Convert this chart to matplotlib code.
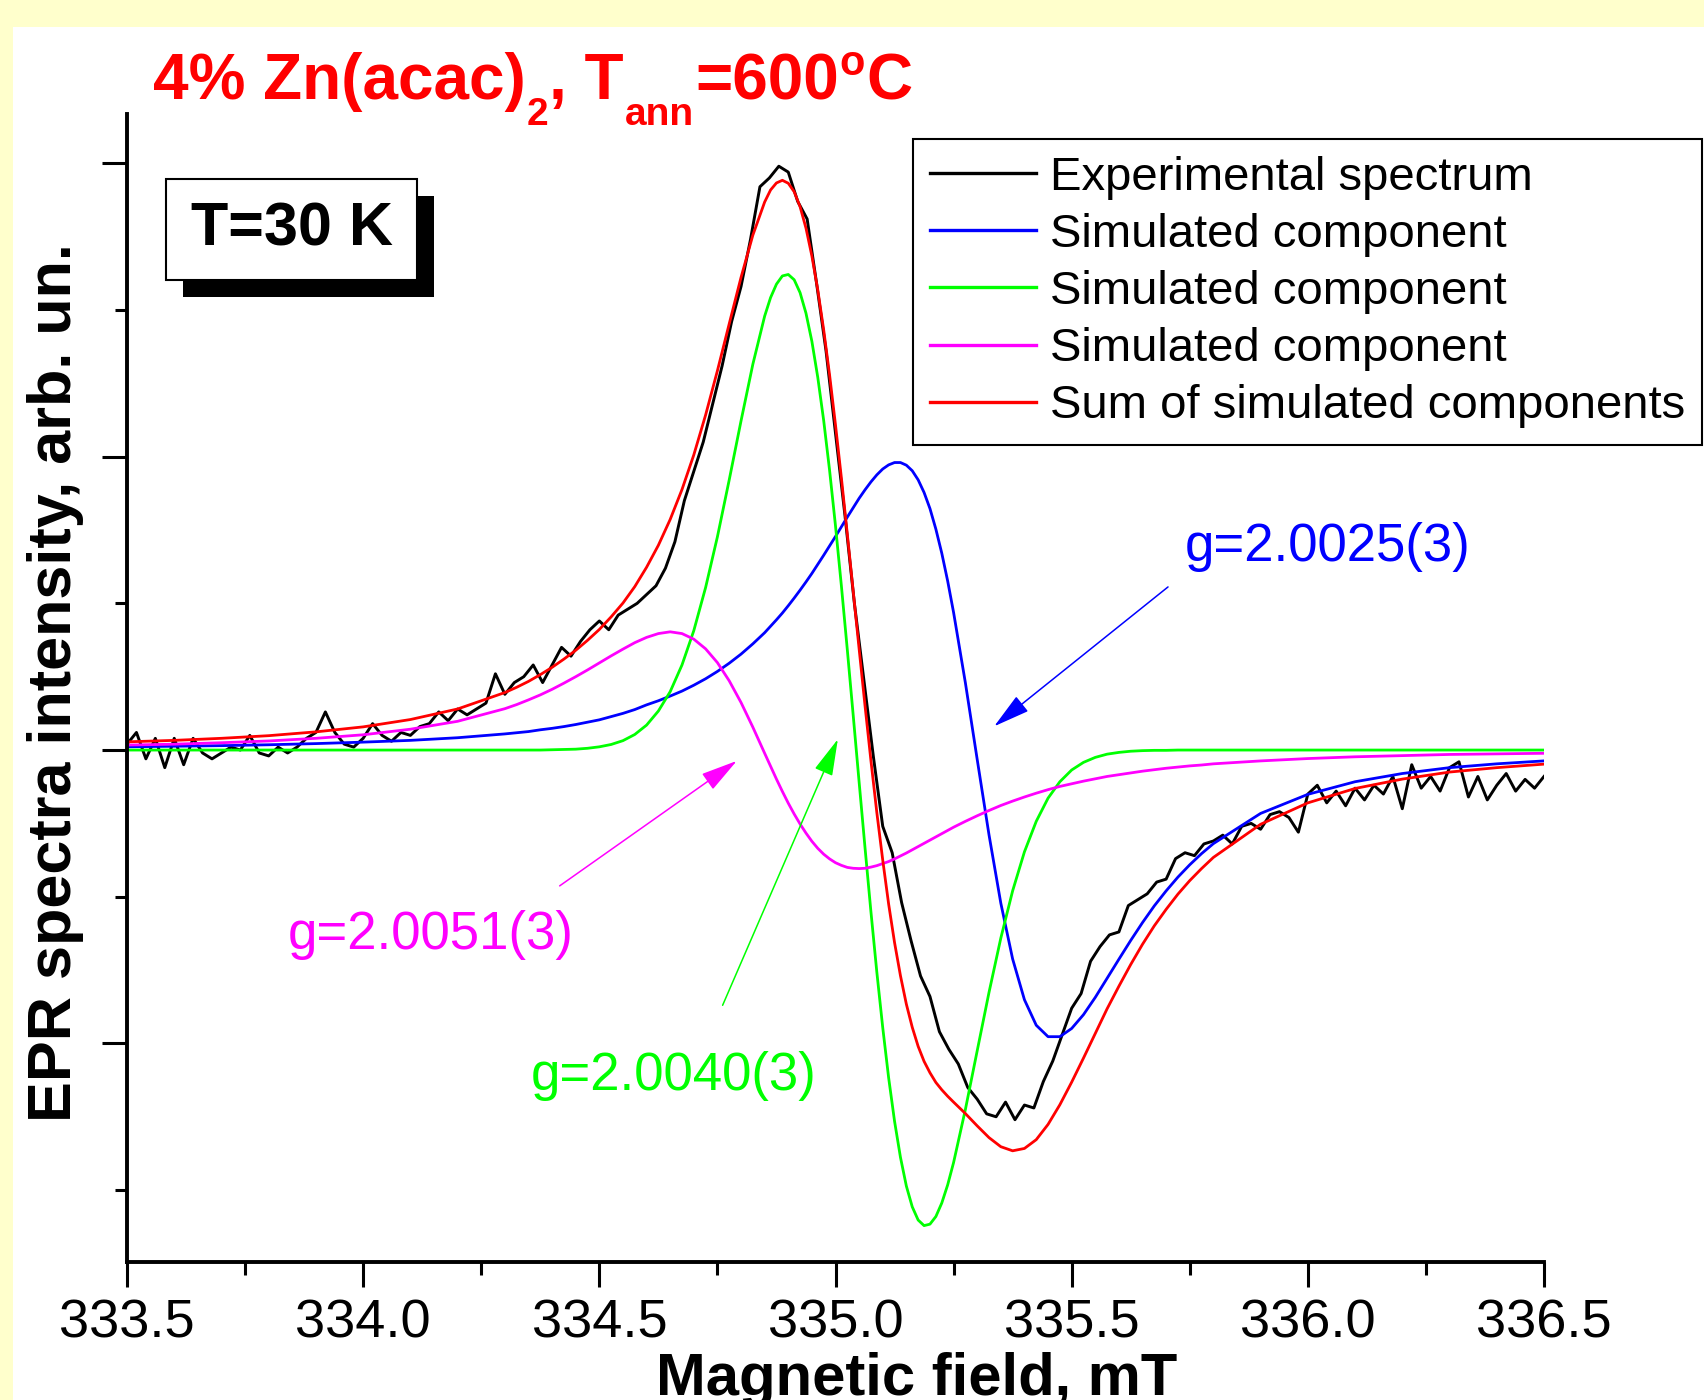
import matplotlib.pyplot as plt
from matplotlib.patches import Rectangle
from matplotlib.ticker import MultipleLocator

plt.rcParams['font.family'] = ['Liberation Sans', 'DejaVu Sans']

# ---------------- data ----------------
# simulated components, field in mT
field_sim = [333.5, 333.6, 333.7, 333.8, 333.9, 334.0, 334.1, 334.2, 334.3,
             334.325, 334.35, 334.375, 334.4, 334.425, 334.45, 334.475, 334.5,
             334.525, 334.55, 334.575, 334.6, 334.625, 334.65, 334.675, 334.7,
             334.725, 334.75, 334.775, 334.8, 334.825, 334.85,
             334.8625, 334.875, 334.8875, 334.9, 334.9125, 334.925, 334.9375, 334.95,
             334.9625, 334.975, 334.9875, 335.0, 335.0125, 335.025, 335.0375, 335.05,
             335.0625, 335.075, 335.0875, 335.1, 335.1125, 335.125, 335.1375, 335.15,
             335.1625, 335.175, 335.1875, 335.2, 335.2125, 335.225, 335.2375, 335.25,
             335.275, 335.3, 335.325, 335.35, 335.375, 335.4, 335.425, 335.45,
             335.475, 335.5, 335.525, 335.55, 335.575, 335.6, 335.625, 335.65,
             335.675, 335.7, 335.725, 335.75, 335.775, 335.8,
             335.9, 336.0, 336.1, 336.2, 336.3, 336.4, 336.5]

blue_comp = [0.011, 0.013, 0.015, 0.018, 0.022, 0.027, 0.033, 0.042, 0.055,
             0.059, 0.063, 0.069, 0.074, 0.080, 0.087, 0.095, 0.103,
             0.114, 0.125, 0.138, 0.154, 0.168, 0.184, 0.201, 0.221,
             0.243, 0.268, 0.296, 0.327, 0.362, 0.400,
             0.422, 0.444, 0.467, 0.492, 0.518, 0.545, 0.573, 0.602,
             0.633, 0.664, 0.696, 0.728, 0.761, 0.794, 0.826, 0.858,
             0.887, 0.914, 0.938, 0.958, 0.972, 0.980, 0.980, 0.971,
             0.952, 0.921, 0.878, 0.823, 0.753, 0.671, 0.576, 0.469,
             0.229, -0.032, -0.289, -0.522, -0.712, -0.851, -0.938, -0.977,
             -0.977, -0.949, -0.902, -0.843, -0.778, -0.713, -0.649, -0.588,
             -0.531, -0.480, -0.433, -0.391, -0.353, -0.319,
             -0.216, -0.151, -0.108, -0.080, -0.060, -0.047, -0.037]

green_comp = [0, 0, 0, 0, 0, 0, 0, 0, 0,
              0, 0, 0, 0.001, 0.002, 0.003, 0.006, 0.011,
              0.019, 0.032, 0.053, 0.085, 0.133, 0.199, 0.290, 0.407,
              0.554, 0.727, 0.921, 1.122, 1.315, 1.479,
              1.542, 1.588, 1.616, 1.621, 1.603, 1.559, 1.489, 1.393,
              1.270, 1.123, 0.953, 0.764, 0.559, 0.342, 0.118, -0.109,
              -0.333, -0.551, -0.757, -0.946, -1.117, -1.265, -1.388, -1.486,
              -1.557, -1.602, -1.621, -1.616, -1.590, -1.544, -1.482, -1.406,
              -1.225, -1.025, -0.826, -0.641, -0.480, -0.347, -0.243, -0.164,
              -0.108, -0.068, -0.042, -0.025, -0.014, -0.008, -0.004, -0.002,
              -0.001, -0.001, 0, 0, 0, 0,
              0, 0, 0, 0, 0, 0, 0]

magenta_comp = [0.017, 0.020, 0.025, 0.031, 0.040, 0.052, 0.071, 0.098, 0.141,
                0.155, 0.171, 0.188, 0.207, 0.228, 0.250, 0.273, 0.297,
                0.321, 0.344, 0.366, 0.384, 0.397, 0.403, 0.397, 0.378,
                0.345, 0.298, 0.236, 0.162, 0.078, -0.011,
                -0.055, -0.099, -0.141, -0.181, -0.218, -0.252, -0.283, -0.311,
                -0.335, -0.355, -0.371, -0.384, -0.393, -0.400, -0.403, -0.404,
                -0.403, -0.399, -0.394, -0.387, -0.380, -0.371, -0.361, -0.351,
                -0.340, -0.329, -0.318, -0.307, -0.296, -0.285, -0.274, -0.263,
                -0.243, -0.224, -0.206, -0.189, -0.174, -0.160, -0.147, -0.135,
                -0.124, -0.115, -0.106, -0.098, -0.090, -0.084, -0.078, -0.072,
                -0.067, -0.062, -0.058, -0.054, -0.051, -0.047,
                -0.037, -0.029, -0.023, -0.019, -0.015, -0.013, -0.011]

sum_comp = [0.028, 0.033, 0.040, 0.049, 0.062, 0.079, 0.104, 0.140, 0.196,
            0.214, 0.234, 0.257, 0.282, 0.310, 0.340, 0.374, 0.411,
            0.454, 0.501, 0.557, 0.623, 0.698, 0.786, 0.888, 1.006,
            1.142, 1.293, 1.453, 1.611, 1.755, 1.868,
            1.909, 1.933, 1.942, 1.932, 1.903, 1.852, 1.779, 1.684,
            1.568, 1.432, 1.278, 1.108, 0.927, 0.736, 0.541, 0.345,
            0.151, -0.036, -0.213, -0.375, -0.525, -0.656, -0.769, -0.866,
            -0.945, -1.010, -1.061, -1.100, -1.133, -1.158, -1.180, -1.200,
            -1.239, -1.281, -1.321, -1.352, -1.366, -1.358, -1.328, -1.276,
            -1.209, -1.132, -1.050, -0.966, -0.882, -0.805, -0.731, -0.662,
            -0.599, -0.543, -0.491, -0.445, -0.404, -0.366,
            -0.253, -0.180, -0.131, -0.099, -0.075, -0.060, -0.048]

# experimental spectrum
field_exp = [333.50, 333.52, 333.54, 333.56, 333.58, 333.60, 333.62, 333.64, 333.66, 333.68,
             333.70, 333.72, 333.74, 333.76, 333.78, 333.80, 333.82, 333.84, 333.86, 333.88,
             333.90, 333.92, 333.94, 333.96, 333.98, 334.00, 334.02, 334.04, 334.06, 334.08,
             334.10, 334.12, 334.14, 334.16, 334.18, 334.20, 334.22, 334.24, 334.26, 334.28,
             334.30, 334.32, 334.34, 334.36, 334.38, 334.40, 334.42, 334.44, 334.46, 334.48,
             334.50, 334.52, 334.54, 334.56, 334.58, 334.60, 334.62, 334.64, 334.66, 334.68,
             334.70, 334.72, 334.74, 334.76, 334.78, 334.80, 334.82, 334.84, 334.86, 334.88,
             334.90, 334.92, 334.94, 334.96, 334.98, 335.00, 335.02, 335.04, 335.06, 335.08,
             335.10, 335.12, 335.14, 335.16, 335.18, 335.20, 335.22, 335.24, 335.26, 335.28,
             335.30, 335.32, 335.34, 335.36, 335.38, 335.40, 335.42, 335.44, 335.46, 335.48,
             335.50, 335.52, 335.54, 335.56, 335.58, 335.60, 335.62, 335.64, 335.66, 335.68,
             335.70, 335.72, 335.74, 335.76, 335.78, 335.80, 335.82, 335.84, 335.86, 335.88,
             335.90, 335.92, 335.94, 335.96, 335.98, 336.00, 336.02, 336.04, 336.06, 336.08,
             336.10, 336.12, 336.14, 336.16, 336.18, 336.20, 336.22, 336.24, 336.26, 336.28,
             336.30, 336.32, 336.34, 336.36, 336.38, 336.40, 336.42, 336.44, 336.46, 336.48,
             336.50]

exp_signal = [0.02, 0.06, -0.03, 0.04, -0.06, 0.04, -0.05, 0.04, -0.01, -0.03,
              -0.01, 0.01, 0.00, 0.05, -0.01, -0.02, 0.01, -0.01, 0.01, 0.04,
              0.06, 0.13, 0.06, 0.02, 0.01, 0.04, 0.09, 0.05, 0.03, 0.06,
              0.05, 0.08, 0.09, 0.13, 0.10, 0.14, 0.12, 0.14, 0.16, 0.26,
              0.19, 0.23, 0.25, 0.29, 0.23, 0.29, 0.35, 0.32, 0.37, 0.41,
              0.44, 0.41, 0.46, 0.48, 0.50, 0.53, 0.56, 0.62, 0.71, 0.85,
              0.95, 1.05, 1.18, 1.31, 1.46, 1.58, 1.74, 1.92, 1.95, 1.99,
              1.97, 1.87, 1.81, 1.59, 1.36, 1.08, 0.80, 0.50, 0.24, -0.02,
              -0.26, -0.35, -0.52, -0.65, -0.77, -0.84, -0.96, -1.02, -1.07, -1.15,
              -1.19, -1.24, -1.25, -1.20, -1.26, -1.21, -1.22, -1.13, -1.06, -0.97,
              -0.88, -0.83, -0.72, -0.67, -0.63, -0.62, -0.53, -0.51, -0.49, -0.45,
              -0.44, -0.37, -0.35, -0.36, -0.32, -0.31, -0.29, -0.32, -0.26, -0.25,
              -0.27, -0.22, -0.21, -0.23, -0.28, -0.15, -0.12, -0.18, -0.14, -0.19,
              -0.13, -0.17, -0.12, -0.15, -0.09, -0.20, -0.05, -0.13, -0.09, -0.14,
              -0.06, -0.04, -0.16, -0.09, -0.17, -0.12, -0.08, -0.14, -0.10, -0.13,
              -0.09]

series_labels = ['Experimental spectrum', 'Simulated component', 'Simulated component',
                 'Simulated component', 'Sum of simulated components']
g_labels = ['g=2.0025(3)', 'g=2.0051(3)', 'g=2.0040(3)']
x_ticks = [333.5, 334.0, 334.5, 335.0, 335.5, 336.0, 336.5]

# ---------------- figure ----------------
W, H = 1704, 1400
fig = plt.figure(figsize=(W / 100, H / 100), dpi=100)
fig.patch.set_facecolor('#FFFFCC')
fig.add_artist(Rectangle((13 / W, 0), 1, (H - 27) / H, transform=fig.transFigure,
                         facecolor='white', edgecolor='none', zorder=-1))

ax = fig.add_axes([127 / W, 1 - 1262 / H, 1417 / W, 1148 / H])
ax.set_facecolor('none')

ax.plot(field_exp, exp_signal, color='black', lw=2.1, label=series_labels[0])
ax.plot(field_sim, blue_comp, color='#0000FF', lw=2.0, label=series_labels[1])
ax.plot(field_sim, green_comp, color='#00FF00', lw=2.0, label=series_labels[2])
ax.plot(field_sim, magenta_comp, color='#FF00FF', lw=2.0, label=series_labels[3])
ax.plot(field_sim, sum_comp, color='#FF0000', lw=2.0, label=series_labels[4])

ax.set_xlim(333.5, 336.5)
ax.set_ylim(-1.745, 2.168)

for s in ['top', 'right']:
    ax.spines[s].set_visible(False)
for s in ['left', 'bottom']:
    ax.spines[s].set_linewidth(2.8)

ax.set_xticks(x_ticks)
ax.set_xticklabels(['%.1f' % t for t in x_ticks])
ax.xaxis.set_minor_locator(MultipleLocator(0.25))
ax.set_yticks([-1, 0, 1, 2])
ax.set_yticks([-1.5, -0.5, 0.5, 1.5], minor=True)
ax.tick_params(which='major', direction='out', length=18, width=2.2, labelsize=39, pad=8)
ax.tick_params(which='minor', direction='out', length=9, width=2.2)
ax.tick_params(axis='y', labelleft=False)

ax.set_xlabel('Magnetic field, mT', fontsize=43, fontweight='bold')
ax.xaxis.set_label_coords(0.557, -0.078)
ax.set_ylabel('EPR spectra intensity, arb. un.', fontsize=44, fontweight='bold')
ax.yaxis.set_label_coords(-0.030, 0.505)

# g-factor labels with arrows
arrow_kw = dict(lw=1.1, shrinkA=0, shrinkB=0, mutation_scale=10)
ax.annotate('', xy=(335.336, 0.081), xytext=(335.704, 0.556),
            arrowprops=dict(arrowstyle='-|>,head_length=2.3,head_width=0.6', color='#0000FF', **arrow_kw))
ax.annotate('', xy=(334.791, -0.037), xytext=(334.416, -0.463),
            arrowprops=dict(arrowstyle='-|>,head_length=2.3,head_width=0.6', color='#FF00FF', **arrow_kw))
ax.annotate('', xy=(335.005, 0.037), xytext=(334.761, -0.870),
            arrowprops=dict(arrowstyle='-|>,head_length=2.3,head_width=0.6', color='#00FF00', **arrow_kw))
ax.text(336.042, 0.693, g_labels[0], color='#0000FF', fontsize=38, ha='center', va='center')
ax.text(334.142, -0.630, g_labels[1], color='#FF00FF', fontsize=38, ha='center', va='center')
ax.text(334.657, -1.111, g_labels[2], color='#00FF00', fontsize=38, ha='center', va='center')

leg = ax.legend(loc='upper right', bbox_to_anchor=((1702 - 127) / 1417, (1262 - 139) / 1148),
                borderaxespad=0, fontsize=34, handlelength=2.25, handletextpad=0.3,
                labelspacing=0.28, borderpad=0.35, fancybox=False, framealpha=1,
                edgecolor='black')
leg.get_frame().set_linewidth(1.5)
for line in leg.get_lines():
    line.set_linewidth(2.4)

# title, built piece by piece so sub/superscripts sit like the original
title_parts = [('4% Zn(acac)', 46, 0), ('2', 28, -26), (', T', 46, 0), ('ann', 28, -26),
               ('=600', 46, 0), ('o', 30, 24), ('C', 46, 0)]
renderer = fig.canvas.get_renderer()
x_px = 153
for txt, size, dy in title_parts:
    t = fig.text(x_px / W, (H - 99 + dy) / H, txt, color='#FF0000', fontsize=size,
                 fontweight='bold', ha='left', va='baseline')
    x_px = t.get_window_extent(renderer).x1 + 1

# T=30 K box with shadow
fig.add_artist(Rectangle((183 / W, 1 - 297 / H), 251 / W, 101 / H, transform=fig.transFigure,
                         facecolor='black', edgecolor='none', zorder=5))
fig.add_artist(Rectangle((166 / W, 1 - 280 / H), 251 / W, 101 / H, transform=fig.transFigure,
                         facecolor='white', edgecolor='black', lw=1.5, zorder=6))
fig.text(292 / W, 1 - 230 / H, 'T=30 K', fontsize=44, fontweight='bold',
         ha='center', va='center', zorder=7)

fig.savefig('out.png', dpi=100, facecolor=fig.get_facecolor())
